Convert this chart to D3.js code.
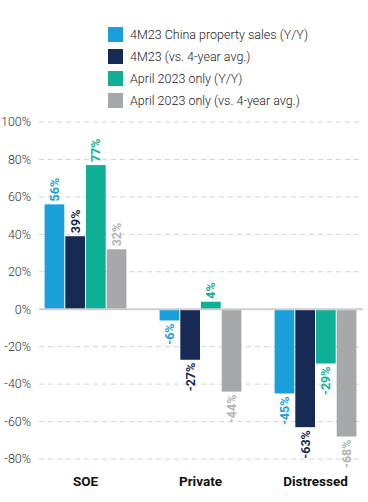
<!DOCTYPE html>
<html><head><meta charset="utf-8">
<script src="https://cdn.jsdelivr.net/npm/d3@7"></script>
<style>body{margin:0;background:#fff}svg{display:block}</style>
</head><body>
<script>
const categories = ["SOE", "Private", "Distressed"];
const seriesNames = ["4M23 China property sales (Y/Y)", "4M23 (vs. 4-year avg.)", "April 2023 only (Y/Y)", "April 2023 only (vs. 4-year avg.)"];
const sales4M23 = [56, -6, -45];
const vsAvg4M23 = [39, -27, -63];
const april2023 = [77, 4, -29];
const aprilVsAvg = [32, -44, -68];
const yTicks = [100, 80, 60, 40, 20, 0, -20, -40, -60, -80];
const colors = ["#1b9fdb", "#172a54", "#10b096", "#a7a8aa"];
const labelColors = ["#1b9fdb", "#172a54", "#10b096", "#b3b4b6"];
const series = [sales4M23, vsAvg4M23, april2023, aprilVsAvg];

const W = 368, H = 502;
const svg = d3.select("body").append("svg").attr("width", W).attr("height", H);
const font = "Roboto, 'Liberation Sans Narrow', sans-serif";

const y = d3.scaleLinear().domain([-80, 100]).range([459, 122]);
const x0 = d3.scaleBand().domain(categories).range([28, 373]).paddingInner(0.28).paddingOuter(0.14);
const x1 = d3.scaleBand().domain(d3.range(4)).range([0, x0.bandwidth()]);

// grid
const grid = svg.append("g");
yTicks.filter(t => t !== 0).forEach(t => {
  grid.append("line").attr("x1", 39).attr("x2", 363).attr("y1", y(t)).attr("y2", y(t))
    .attr("stroke", "#d4d4d4").attr("stroke-dasharray", "5,4").attr("stroke-width", 1);
});
// y axis labels
svg.append("g").selectAll("text").data(yTicks).join("text")
  .attr("x", 31).attr("y", d => y(d)).attr("dy", "0.35em").attr("text-anchor", "end")
  .attr("font-family", font).attr("font-size", 12.5).attr("font-weight", 300).attr("fill", "#333")
  .text(d => d + "%");

// bars
const groups = svg.append("g").selectAll("g").data(categories).join("g")
  .attr("transform", d => `translate(${x0(d)},0)`);
groups.each(function(cat, ci) {
  const g = d3.select(this);
  series.forEach((s, si) => {
    const v = s[ci];
    g.append("rect").attr("x", x1(si) + 0.5).attr("width", x1.bandwidth() - 1)
      .attr("y", y(Math.max(0, v))).attr("height", Math.abs(y(v) - y(0)))
      .attr("fill", colors[si]);
    const cx = x1(si) + x1.bandwidth() / 2;
    const ty = v >= 0 ? y(v) - 3 : y(v) + 3;
    g.append("text").attr("transform", `translate(${cx},${ty}) rotate(-90)`)
      .attr("text-anchor", v >= 0 ? "start" : "end").attr("dy", "0.36em")
      .attr("font-family", font).attr("font-size", 12.5).attr("font-weight", 700)
      .attr("fill", labelColors[si]).text(v + "%");
  });
});

// zero line
svg.append("line").attr("x1", 39).attr("x2", 363).attr("y1", y(0)).attr("y2", y(0))
  .attr("stroke", "#cfcfcf").attr("stroke-width", 2);

// category labels
svg.append("g").selectAll("text").data(categories).join("text")
  .attr("x", d => x0(d) + x0.bandwidth() / 2).attr("y", 486).attr("text-anchor", "middle")
  .attr("font-family", font).attr("font-size", 13.5).attr("font-weight", 700).attr("fill", "#111")
  .text(d => d);

// legend
const leg = svg.append("g");
seriesNames.forEach((n, i) => {
  const ly = 27 + i * 22;
  leg.append("rect").attr("x", 108).attr("y", ly).attr("width", 15).attr("height", 15).attr("fill", colors[i]);
  leg.append("text").attr("x", 130).attr("y", ly + 7.5).attr("dy", "0.35em")
    .attr("font-family", font).attr("font-size", 12.5).attr("font-weight", 300).attr("fill", "#222").text(n);
});
</script>
</body></html>
